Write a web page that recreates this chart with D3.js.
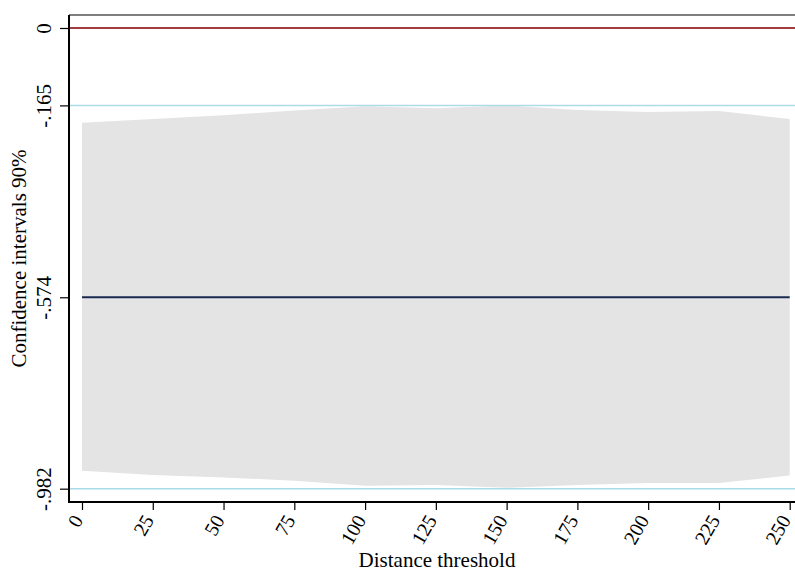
<!DOCTYPE html>
<html>
<head>
<meta charset="utf-8">
<script src="https://cdn.jsdelivr.net/npm/d3@7"></script>
<style>
  html, body { margin: 0; padding: 0; background: #fff; }
  svg { display: block; }
  text { font-family: "Liberation Serif", "Times New Roman", serif; fill: #000; }
</style>
</head>
<body>
<svg id="chart" width="795" height="572"></svg>
<script>
// ---- data ----
const thresholds = [0, 25, 50, 75, 100, 125, 150, 175, 200, 225, 250];
const estimate   = [-0.574, -0.574, -0.574, -0.574, -0.574, -0.574, -0.574, -0.574, -0.574, -0.574, -0.574];
const upperCI    = [-0.202, -0.194, -0.186, -0.176, -0.167, -0.171, -0.165, -0.175, -0.179, -0.177, -0.194];
const lowerCI    = [-0.944, -0.953, -0.958, -0.965, -0.976, -0.974, -0.980, -0.974, -0.970, -0.970, -0.954];
const yTickValues = [0, -0.165, -0.574, -0.982];
const yTickLabels = ["0", "-.165", "-.574", "-.982"];
const xTickValues = [0, 25, 50, 75, 100, 125, 150, 175, 200, 225, 250];
const xTitle = "Distance threshold";
const yTitle = "Confidence intervals 90%";

// ---- layout ----
const svg = d3.select("#chart");
const pL = 69, pR = 795, pT = 15, pB = 502;

const x = d3.scaleLinear().domain([-4.59, 251.87]).range([pL, pR]);
const y = d3.scaleLinear().domain([0.0277, -1.0104]).range([pT, pB]);

const rows = thresholds.map((t, i) => ({ t, est: estimate[i], lo: lowerCI[i], hi: upperCI[i] }));

// band
svg.append("path")
  .datum(rows)
  .attr("fill", "#e4e4e4")
  .attr("stroke", "none")
  .attr("d", d3.area().x(d => x(d.t)).y0(d => y(d.lo)).y1(d => y(d.hi)));

// reference lines at min/max of CI (light cyan)
[yTickValues[1], yTickValues[3]].forEach(v => {
  svg.append("line")
    .attr("x1", pL).attr("x2", pR)
    .attr("y1", y(v)).attr("y2", y(v))
    .attr("stroke", "#aadbe8").attr("stroke-width", 1.5);
});

// zero line
svg.append("line")
  .attr("x1", pL).attr("x2", pR)
  .attr("y1", y(0)).attr("y2", y(0))
  .attr("stroke", "#a23c3e").attr("stroke-width", 2);

// estimate line
svg.append("path")
  .datum(rows)
  .attr("fill", "none")
  .attr("stroke", "#1b2a52")
  .attr("stroke-width", 2)
  .attr("d", d3.line().x(d => x(d.t)).y(d => y(d.est)));

// top border
svg.append("line")
  .attr("x1", pL).attr("x2", pR)
  .attr("y1", pT).attr("y2", pT)
  .attr("stroke", "#555").attr("stroke-width", 1.6);

// y axis
const yAxis = d3.axisLeft(y)
  .tickValues(yTickValues)
  .tickFormat((d, i) => yTickLabels[i])
  .tickSize(9)
  .tickSizeOuter(0);
const gy = svg.append("g").attr("transform", `translate(${pL},0)`).call(yAxis);
gy.select(".domain").attr("stroke", "#000").attr("stroke-width", 2)
  .attr("d", `M0,${pT}V${pB + 1}`);
gy.selectAll(".tick line").attr("stroke", "#000").attr("stroke-width", 1.2);
gy.selectAll(".tick text")
  .attr("font-size", 21)
  .attr("font-family", "Liberation Serif, serif")
  .attr("text-anchor", "middle")
  .attr("x", null).attr("dy", null)
  .attr("transform", "translate(-18,0) rotate(-90)");

// x axis
const xAxis = d3.axisBottom(x)
  .tickValues(xTickValues)
  .tickFormat(d3.format("d"))
  .tickSize(8)
  .tickSizeOuter(0);
const gx = svg.append("g").attr("transform", `translate(0,${pB})`).call(xAxis);
gx.select(".domain").attr("stroke", "#000").attr("stroke-width", 2)
  .attr("d", `M${pL - 1},0H${pR}`);
gx.selectAll(".tick line").attr("stroke", "#000").attr("stroke-width", 1.2);
gx.selectAll(".tick text")
  .attr("font-size", 20)
  .attr("font-family", "Liberation Serif, serif")
  .attr("text-anchor", "end")
  .attr("y", null).attr("dy", "0.3em")
  .attr("transform", "translate(-4,15) rotate(-60)");

// axis titles
svg.append("text")
  .attr("x", 437)
  .attr("y", 567)
  .attr("text-anchor", "middle")
  .attr("font-size", 21)
  .text(xTitle);

svg.append("text")
  .attr("transform", `translate(26,${(pT + pB) / 2}) rotate(-90)`)
  .attr("text-anchor", "middle")
  .attr("font-size", 21)
  .text(yTitle);
</script>
</body>
</html>
